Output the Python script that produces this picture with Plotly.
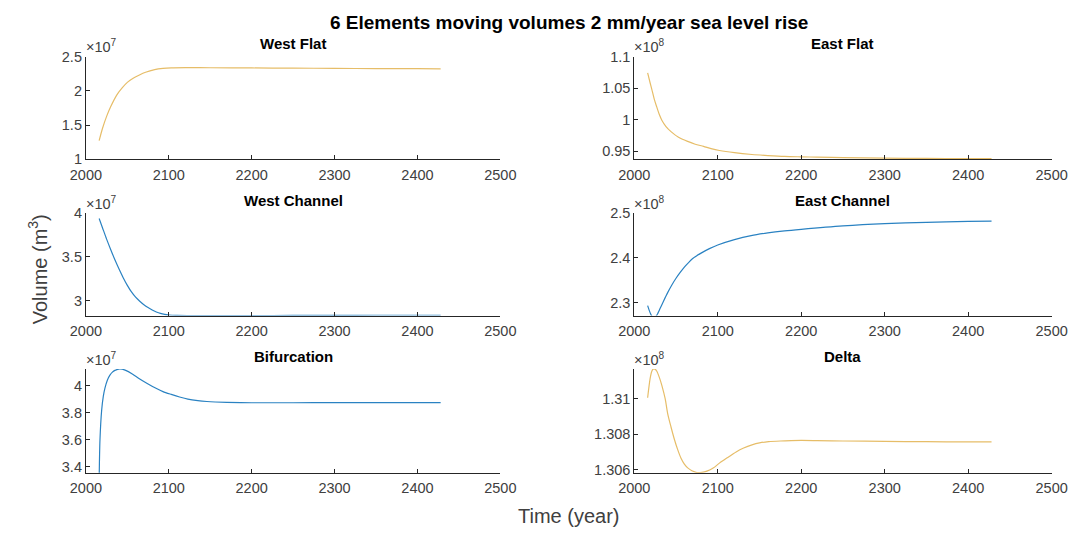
import plotly.graph_objects as go

# ---------------- data ----------------
# West Flat  (x1e7)
wf_t = [2016, 2020, 2025, 2030, 2037, 2044, 2050, 2057, 2064, 2072, 2083, 2093, 2103, 2120, 2150, 2200, 2250, 2300, 2350, 2400, 2428]
wf_v = [1.273, 1.45, 1.627, 1.77, 1.934, 2.045, 2.122, 2.183, 2.227, 2.27, 2.308, 2.326, 2.334, 2.337, 2.336, 2.333, 2.330, 2.327, 2.324, 2.322, 2.321]

# East Flat (x1e8)
ef_t = [2016, 2019, 2021, 2024, 2027, 2030, 2033, 2038, 2044, 2053, 2064, 2073, 2083, 2092, 2102, 2120, 2141, 2160, 2180, 2200, 2219, 2250, 2300, 2350, 2400, 2428]
ef_v = [1.074, 1.058, 1.048, 1.032, 1.0197, 1.008, 0.999, 0.989, 0.981, 0.972, 0.9654, 0.961, 0.9576, 0.954, 0.951, 0.9475, 0.9447, 0.943, 0.9416, 0.941, 0.9405, 0.9397, 0.9389, 0.9385, 0.9382, 0.9381]

# West Channel (x1e7)
wc_t = [2016, 2020, 2025, 2030, 2035, 2040, 2045, 2050, 2055, 2060, 2065, 2070, 2075, 2080, 2085, 2090, 2095, 2100, 2110, 2130, 2150, 2200, 2250, 2300, 2350, 2400, 2428]
wc_v = [3.934, 3.83, 3.70, 3.58, 3.465, 3.36, 3.262, 3.175, 3.10, 3.04, 2.995, 2.955, 2.922, 2.895, 2.873, 2.856, 2.845, 2.838, 2.833, 2.831, 2.831, 2.832, 2.833, 2.834, 2.835, 2.835, 2.835]

# East Channel (x1e8)
ec_t = [2016, 2018, 2020, 2022, 2024, 2026, 2028, 2030, 2035, 2040, 2045, 2050, 2055, 2060, 2065, 2070, 2080, 2090, 2100, 2120, 2140, 2160, 2180, 2200, 2250, 2300, 2350, 2400, 2428]
ec_v = [2.293, 2.282, 2.273, 2.267, 2.266, 2.269, 2.275, 2.283, 2.303, 2.322, 2.339, 2.354, 2.367, 2.379, 2.389, 2.398, 2.410, 2.420, 2.428, 2.440, 2.449, 2.455, 2.4595, 2.463, 2.4705, 2.4755, 2.4785, 2.4805, 2.4812]

# Bifurcation (x1e7)
bf_t = [2016, 2017, 2019, 2021, 2023, 2026, 2029, 2032, 2035, 2041, 2048, 2056, 2064, 2074, 2084, 2093, 2103, 2113, 2123, 2135, 2146, 2170, 2200, 2250, 2300, 2350, 2400, 2428]
bf_v = [3.30, 3.60, 3.816, 3.92, 3.981, 4.04, 4.076, 4.098, 4.111, 4.122, 4.111, 4.085, 4.052, 4.015, 3.981, 3.955, 3.934, 3.915, 3.899, 3.888, 3.882, 3.876, 3.873, 3.873, 3.874, 3.874, 3.874, 3.874]

# Delta (x1e8)
de_t = [2016, 2019, 2021, 2023, 2025, 2027, 2030, 2033, 2037, 2040, 2044, 2048, 2052, 2056, 2060, 2064, 2069, 2075, 2081, 2087, 2095, 2102, 2112, 2122, 2131, 2141, 2150, 2161, 2175, 2188, 2200, 2219, 2250, 2300, 2350, 2400, 2428]
de_v = [1.31005, 1.31114, 1.31155, 1.31168, 1.31166, 1.31155, 1.31120, 1.31075, 1.31000, 1.30916, 1.30840, 1.30771, 1.30712, 1.30663, 1.30630, 1.30609, 1.30593, 1.30583, 1.30584, 1.30591, 1.30610, 1.30636, 1.30668, 1.30699, 1.30721, 1.30739, 1.30750, 1.30757, 1.30761, 1.30763, 1.30764, 1.30763, 1.30761, 1.30759, 1.30757, 1.30756, 1.30756]

x_ticks = [2000, 2100, 2200, 2300, 2400, 2500]

panels = [
    # title, t, v, exponent, colour, yrange, ytickvals, yticktext
    ("West Flat", wf_t, wf_v, 7, "yellow", [1.0, 2.5], [1.0, 1.5, 2.0, 2.5], ["1", "1.5", "2", "2.5"]),
    ("East Flat", ef_t, ef_v, 8, "yellow", [0.937, 1.1], [0.95, 1.0, 1.05, 1.1], ["0.95", "1", "1.05", "1.1"]),
    ("West Channel", wc_t, wc_v, 7, "blue", [2.832, 4.0], [3.0, 3.5, 4.0], ["3", "3.5", "4"]),
    ("East Channel", ec_t, ec_v, 8, "blue", [2.271, 2.5], [2.3, 2.4, 2.5], ["2.3", "2.4", "2.5"]),
    ("Bifurcation", bf_t, bf_v, 7, "blue", [3.358, 4.122], [3.4, 3.6, 3.8, 4.0], ["3.4", "3.6", "3.8", "4"]),
    ("Delta", de_t, de_v, 8, "yellow", [1.30582, 1.31168], [1.306, 1.308, 1.31], ["1.306", "1.308", "1.31"]),
]

COLORS = {"yellow": "#E6BD68", "blue": "#2A82C2"}
AXC = "#262626"
TXT = "#404040"
FONT = "Liberation Sans, Arial, sans-serif"

W, H = 1089, 536
col_px = [(72, 499), (637, 1067)]
row_px = [(50, 156), (211, 317), (372, 479)]

fig = go.Figure()
annotations = []
layout = {}

for i, (title, t, v, ex, col, yr, ytv, ytt) in enumerate(panels):
    r, c = divmod(i, 2)
    n = i + 1
    xs = "" if n == 1 else str(n)
    x0, x1 = col_px[c]
    y0, y1 = row_px[r]
    xdom = [x0 / W, x1 / W]
    ydom = [1 - y1 / H, 1 - y0 / H]
    scale = 10 ** ex
    fig.add_trace(go.Scatter(
        x=t, y=[val * scale for val in v], mode="lines",
        line=dict(color=COLORS[col], width=1.2, shape="spline", smoothing=0.8),
        xaxis="x" + xs, yaxis="y" + xs, showlegend=False, hoverinfo="skip"))
    layout["xaxis" + xs] = dict(
        domain=xdom, anchor="y" + xs, range=[2000, 2500], tickvals=x_ticks,
        ticktext=[str(k) for k in x_ticks], ticks="inside", ticklen=4, tickcolor=AXC,
        showline=True, linecolor=AXC, linewidth=1, showgrid=False, zeroline=False,
        ticklabelstandoff=2,
        tickfont=dict(family=FONT, size=14.5, color=TXT), fixedrange=True)
    layout["yaxis" + xs] = dict(
        domain=ydom, anchor="x" + xs, range=[yr[0] * scale, yr[1] * scale],
        tickvals=[tv * scale for tv in ytv], ticktext=ytt, ticks="inside", ticklen=4,
        tickcolor=AXC, showline=True, linecolor=AXC, linewidth=1, showgrid=False,
        zeroline=False, tickfont=dict(family=FONT, size=14.5, color=TXT), fixedrange=True)
    # subplot title
    annotations.append(dict(text="<b>" + title + "</b>", x=(x0 + x1) / 2 / W, y=1 - (y0 - 13) / H,
                            xref="paper", yref="paper", xanchor="center", yanchor="middle",
                            showarrow=False, font=dict(family=FONT, size=15, color="#000000")))
    # exponent label
    annotations.append(dict(text="×10<sup>%d</sup>" % ex, x=(x0 - 2) / W, y=1 - (y0 + 1) / H,
                            xref="paper", yref="paper", xanchor="left", yanchor="bottom",
                            showarrow=False, font=dict(family=FONT, size=14.5, color=TXT)))

annotations.append(dict(text="<b>6 Elements moving volumes 2 mm/year sea level rise</b>",
                        x=569.5 / W, y=1 - 15 / H, xref="paper", yref="paper", xanchor="center",
                        yanchor="middle", showarrow=False,
                        font=dict(family=FONT, size=19, color="#000000")))
annotations.append(dict(text="Time (year)", x=569.5 / W, y=1 - 524 / H, xref="paper", yref="paper",
                        xanchor="center", yanchor="middle", showarrow=False,
                        font=dict(family=FONT, size=20, color=TXT)))
annotations.append(dict(text="Volume (m<sup>3</sup>)", x=23 / W, y=1 - 269 / H, xref="paper",
                        yref="paper", xanchor="center", yanchor="middle", textangle=-90,
                        showarrow=False, font=dict(family=FONT, size=20, color=TXT)))

fig.update_layout(width=W, height=H, margin=dict(l=0, r=0, t=0, b=0),
                  paper_bgcolor="white", plot_bgcolor="white",
                  annotations=annotations, **layout)

fig.write_html("out.html", config={"displayModeBar": False})
